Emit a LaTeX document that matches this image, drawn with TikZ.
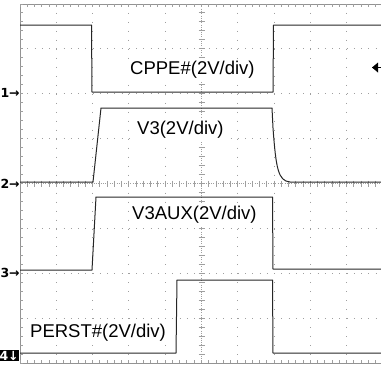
\documentclass[tikz,border=0pt]{standalone}
\usepackage{fontspec}
\setmainfont{Liberation Sans}
\newfontfamily\symfont{DejaVu Sans}
\usepackage{tikz}
\usetikzlibrary{positioning}

\tikzset{
  trace/.style={black!85, line width=1pt, line join=round},
  gridline/.style={gray!75, line width=1pt},
  chlabel/.style={fill=white, inner sep=2pt, anchor=west, font=\fontsize{18.5}{20}\selectfont},
  chmark/.style={inner sep=0.6pt, font=\symfont\bfseries\fontsize{12.5}{13}\selectfont}
}

\begin{document}
\begin{tikzpicture}[x=1pt,y=-1pt]
\useasboundingbox (0,0) rectangle (381,367);
\clip (0,0) rectangle (381,367);
% grid
\foreach \i in {1,...,4,6,7,8,9,10}
  \draw[gridline, dash pattern=on 1pt off 7.98pt] (20+36.3*\i,4) -- (20+36.3*\i,363);
\foreach \j in {1,2,3,5,6,7}
  \draw[gridline, dash pattern=on 1pt off 6.26pt] (20,4+44.9*\j) -- (381,4+44.9*\j);
% centre axes
\draw[gridline, dash pattern=on 1pt off 1.3pt] (201.5,4) -- (201.5,363);
\draw[gridline, dash pattern=on 1pt off 1.3pt] (20,183.6) -- (381,183.6);
\foreach \k in {0,...,40}
  \draw[gridline] (198.5,4+8.98*\k) -- (204.5,4+8.98*\k);
\foreach \k in {0,...,50}
  \draw[gridline] (20+7.26*\k,180.6) -- (20+7.26*\k,186.6);
% frame
\draw[gray!85, line width=1pt] (381,4) -- (20,4) -- (20,363) -- (381,363);
\foreach \k in {0,...,50} {
  \draw[gridline] (20+7.26*\k,4) -- (20+7.26*\k,7);
  \draw[gridline] (20+7.26*\k,363) -- (20+7.26*\k,360);
}
\foreach \k in {0,...,40}
  \draw[gridline] (20,4+8.98*\k) -- (23,4+8.98*\k);

% traces
\draw[trace] (20,25) -- (91.5,25) -- (92,92) -- (273,92) -- (273.5,25) -- (381,25);
\draw[trace] (20,182) -- (93,182) -- (101,108) -- (272,108) -- (273,128)
  .. controls (276,168) and (278,181) .. (290,182) -- (381,182);
\draw[trace] (20,270) -- (92,270) -- (96,197) -- (272.5,197) -- (273,269) -- (381,269);
\draw[trace] (20,353) -- (176,353) -- (177,280) -- (272.5,280) -- (273,353) -- (381,353);

% labels
\node[chlabel] (cppe) at (128,70) {CPPE\#(2V/div)};
\node[chlabel] (vthree) at (135,130) {V3(2V/div)};
\node[chlabel] (vaux) at (130,215) {V3AUX(2V/div)};
\node[chlabel] (perst) at (28,333) {PERST\#(2V/div)};

% channel markers
\node[chmark, anchor=east] (mone) at (20.5,93) {1→};
\node[chmark, anchor=east] (mtwo) at (20.5,183.6) {2→};
\node[chmark, anchor=east] (mthree) at (20.5,273) {3→};
\node[chmark, anchor=east, fill=black, text=white] (mfour) at (19.5,355.5) {4↓};
% trigger marker
\fill[black] (372,67.5) -- (378,62.5) -- (378,72.5) -- cycle;
\draw[black, line width=1pt] (372,67.5) -- (381,67.5);
\end{tikzpicture}
\end{document}
